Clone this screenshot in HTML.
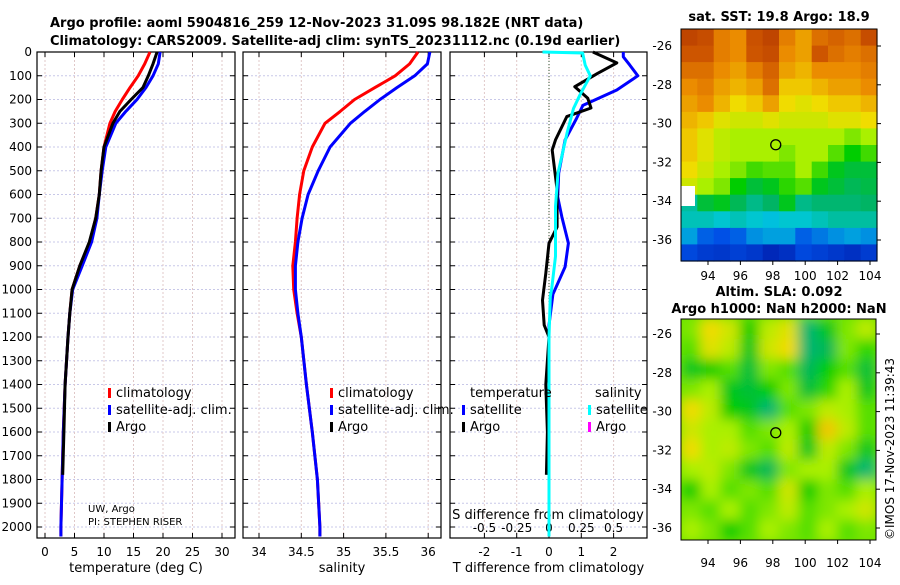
<!DOCTYPE html>
<html><head><meta charset="utf-8"><style>
body{margin:0;background:#fff;width:900px;height:580px;overflow:hidden}
svg{font-family:"DejaVu Sans","Liberation Sans",sans-serif}
</style></head><body>
<svg id="fig" width="900" height="580" viewBox="0 0 900 580" xmlns="http://www.w3.org/2000/svg">
<defs><filter id="blur" x="0" y="0" width="1" height="1"><feGaussianBlur stdDeviation="6"/></filter>
<clipPath id="clipM2"><rect x="681" y="319" width="195" height="221"/></clipPath></defs>
<text x="50" y="27" font-size="13" font-weight="bold">Argo profile: aoml 5904816_259 12-Nov-2023 31.09S 98.182E (NRT data)</text>
<text x="50" y="45" font-size="13" font-weight="bold">Climatology: CARS2009. Satellite-adj clim: synTS_20231112.nc (0.19d earlier)</text>
<text x="779" y="21" font-size="13" font-weight="bold" text-anchor="middle">sat. SST: 19.8 Argo: 18.9</text>
<text x="779" y="296" font-size="13" font-weight="bold" text-anchor="middle">Altim. SLA: 0.092</text>
<text x="779" y="313" font-size="13" font-weight="bold" text-anchor="middle">Argo h1000: NaN h2000: NaN</text>
<text transform="translate(894,540) rotate(-90)" font-size="12">©IMOS 17-Nov-2023 11:39:43</text>
<g id="g"></g>
</svg>
<script>
// ---- data ----
const depthClim = [0,50,100,150,200,250,300,400,500,600,700,800,900,1000,1100,1200,1400,1600,1800,2000,2040];
const tempClim  = [17.8,16.9,15.8,14.4,13.1,11.9,11.0,10.0,9.5,9.2,8.6,7.6,5.9,4.6,4.2,3.9,3.4,3.1,2.9,2.7,2.7];
const tempSat   = [19.5,19.2,18.3,17.1,15.6,13.7,12.0,10.3,9.7,9.2,8.8,7.9,6.3,4.7,4.2,3.9,3.4,3.1,2.9,2.7,2.7];
const depthArgo = [0,50,100,150,200,250,300,400,500,600,700,800,900,1000,1100,1200,1400,1600,1780];
const tempArgo  = [19.0,18.3,17.5,16.6,14.6,12.7,11.5,10.0,9.5,9.2,8.6,7.5,5.9,4.6,4.2,3.9,3.4,3.2,3.0];
const salClim = [35.88,35.78,35.61,35.37,35.13,34.96,34.78,34.63,34.53,34.48,34.45,34.43,34.40,34.41,34.45,34.50,34.56,34.63,34.69,34.72,34.72];
const salSat  = [36.02,35.99,35.84,35.63,35.43,35.25,35.08,34.84,34.70,34.58,34.51,34.46,34.43,34.43,34.46,34.50,34.56,34.63,34.69,34.72,34.72];
const depthDT = [0,46,90,146,195,236,272,370,413,580,737,805,932,1045,1150,1200,1400,1600,1780];
const dTArgo  = [1.36,2.1,1.5,0.8,1.2,1.3,0.55,0.2,0.1,0.25,0.25,0,-0.1,-0.2,-0.15,0,-0.1,-0.05,-0.08];
const depthDTS = [0,20,55,100,160,225,280,370,510,610,695,805,905,1020,1150,1400,2040];
const dTSat    = [2.3,2.3,2.5,2.75,2.1,1.05,0.85,0.5,0.3,0.27,0.4,0.6,0.5,0.12,0,0,0];
const depthDS = [0,4,55,100,180,238,340,510,650,860,1000,1030,1200,2040];
const dSSat   = [-0.05,0.26,0.28,0.32,0.24,0.19,0.14,0.07,0.05,0.05,0.02,0.01,0,0];
const depthTicks = [0,100,200,300,400,500,600,700,800,900,1000,1100,1200,1300,1400,1500,1600,1700,1800,1900,2000];
const tempTicks = [0,5,10,15,20,25,30];
const salTicks = [34,34.5,35,35.5,36];
const salTickLabels = ["34","34.5","35","35.5","36"];
const dTTicks = [-2,-1,0,1,2];
const dSTicks = [-0.5,-0.25,0,0.25,0.5];
const dSTickLabels = ["-0.5","-0.25","0","0.25","0.5"];
const latTicks = [-26,-28,-30,-32,-34,-36];
const lonTicks = [94,96,98,100,102,104];
const sst = [
[.88,.86,.78,.76,.85,.88,.78,.74,.8,.82,.8,.86],
[.84,.84,.78,.76,.84,.86,.76,.74,.84,.8,.78,.8],
[.8,.8,.76,.74,.78,.82,.74,.72,.76,.76,.76,.78],
[.76,.78,.74,.72,.74,.8,.7,.7,.72,.74,.74,.76],
[.74,.76,.72,.68,.7,.74,.68,.66,.68,.7,.7,.72],
[.72,.7,.66,.64,.64,.66,.64,.64,.64,.66,.66,.68],
[.7,.66,.62,.6,.6,.6,.6,.6,.6,.6,.58,.6],
[.7,.66,.62,.6,.6,.6,.58,.6,.6,.56,.52,.55],
[.68,.64,.6,.58,.55,.56,.56,.6,.55,.5,.48,.48],
[.64,.6,.58,.52,.48,.5,.54,.56,.5,.48,.46,.47],
[.4,.48,.5,.46,.42,.45,.5,.42,.44,.44,.44,.45],
[.38,.38,.36,.38,.36,.34,.36,.36,.38,.4,.4,.4],
[.3,.22,.2,.22,.28,.3,.3,.22,.25,.28,.3,.28],
[.18,.15,.14,.16,.14,.1,.12,.18,.16,.14,.12,.15]];
const sla = [
[.58,.68,.64,.52,.62,.66,.44,.50,.58,.62],
[.56,.66,.62,.50,.64,.68,.44,.46,.58,.54],
[.50,.52,.56,.48,.58,.56,.46,.52,.56,.48],
[.58,.60,.50,.48,.52,.58,.48,.54,.60,.50],
[.68,.62,.52,.50,.44,.56,.58,.62,.60,.56],
[.64,.60,.60,.56,.58,.60,.52,.70,.62,.56],
[.68,.60,.62,.58,.56,.62,.50,.62,.58,.50],
[.60,.62,.58,.50,.46,.58,.60,.60,.50,.44],
[.52,.60,.56,.58,.56,.64,.52,.58,.56,.60],
[.58,.56,.60,.56,.58,.62,.56,.58,.60,.64],
[.60,.58,.52,.56,.60,.58,.56,.60,.56,.58]];
const argoLon = 98.182, argoLat = -31.09;

// ---- helpers ----
const NS="http://www.w3.org/2000/svg", G=document.getElementById('g');
function mk(tag,attrs,parent){const e=document.createElementNS(NS,tag);for(const k in attrs)e.setAttribute(k,attrs[k]);(parent||G).appendChild(e);return e;}
const Y=d=>52+d*0.2375;
const PT=60, PB=538;
const xT=v=>45+v*5.9, xS=v=>259+(v-34)*84.6, xD=v=>549+v*32.3, xDS=v=>549+v*4*32.3;
const mapX=lon=>708+(lon-94)*16.2;
const m1Y=lat=>46+(-26-lat)*19.4, m2Y=lat=>334+(-26-lat)*19.4;
const cmapStops=[[0,[0,0,140]],[0.2,[0,80,230]],[0.35,[0,200,220]],[0.45,[0,180,100]],[0.52,[0,205,0]],[0.6,[170,240,0]],[0.68,[240,220,0]],[0.76,[235,140,0]],[0.84,[205,85,0]],[1,[150,20,0]]];
function jet(v){
  v=Math.max(0,Math.min(1,v));
  for(let i=1;i<cmapStops.length;i++){const [a,ca]=cmapStops[i-1],[b,cb]=cmapStops[i];
    if(v<=b){const t=(v-a)/(b-a);return 'rgb('+ca.map((x,k)=>Math.round(x+(cb[k]-x)*t)).join(',')+')';}}
  return 'rgb(150,20,0)';
}
function line(xs,ds,fx,color,name){
  const pts=xs.map((v,i)=>fx(v).toFixed(1)+','+Y(ds[i]).toFixed(1)).join(' ');
  const p=mk('polyline',{points:pts,fill:'none',stroke:color,'stroke-width':3,'stroke-linejoin':'round'});
  
  
}
function panel(x0,x1,name,ticks,fx,labels,xlabel){
  const g=mk('g',{});
  
  
  depthTicks.forEach(d=>mk('line',{x1:x0,x2:x1,y1:Y(d),y2:Y(d),stroke:'#c8c8e8','stroke-width':1,'stroke-dasharray':'2,2'},g));
  ticks.forEach(t=>mk('line',{x1:fx(t),x2:fx(t),y1:PT-8,y2:PB,stroke:'#e0c8c8','stroke-width':1,'stroke-dasharray':'2,2'},g));
  ticks.forEach((t,i)=>{mk('line',{x1:fx(t),x2:fx(t),y1:PB,y2:PB-5,stroke:'#000'},g);mk('line',{x1:fx(t),x2:fx(t),y1:52,y2:57,stroke:'#000'},g);
    if(labels){const tx=mk('text',{x:fx(t),y:556,'font-size':12,'text-anchor':'middle'},g);tx.textContent=labels[i];
    
    }});
  depthTicks.forEach(d=>{mk('line',{x1:x0,x2:x0+5,y1:Y(d),y2:Y(d),stroke:'#000'},g);mk('line',{x1:x1,x2:x1-5,y1:Y(d),y2:Y(d),stroke:'#000'},g);});
  mk('rect',{x:x0,y:52,width:x1-x0,height:PB-52,fill:'none',stroke:'#000','stroke-width':1.2},g);
  if(xlabel){const t=mk('text',{x:(x0+x1)/2,y:572,'font-size':13,'text-anchor':'middle'},g);t.textContent=xlabel;
  
  }
}
function txt(x,y,s,size,name,anchor){const t=mk('text',{x:x,y:y,'font-size':size,'text-anchor':anchor||'start'});t.textContent=s;
  
  return t;}
function leg(x,y,color,label,name){const r=mk('rect',{x:x,y:y-9,width:3,height:10,fill:color});
  
  
  txt(x+8,y,label,13,name);}

// ---- panels ----
panel(37,235,'temperature-panel',tempTicks,xT,tempTicks.map(String),'temperature (deg C)');
panel(243,441,'salinity-panel',salTicks,xS,salTickLabels,'salinity');
panel(450,647,'difference-panel',dTTicks,xD,dTTicks.map(String),'T difference from climatology');
depthTicks.forEach(d=>txt(32,Y(d)+4,String(d),12,'y-tick-label','end'));
const zl=mk('line',{x1:xD(0),x2:xD(0),y1:52,y2:PB,stroke:'#335533','stroke-width':1,'stroke-dasharray':'1,2'});


dSTicks.forEach((t,i)=>txt(xDS(t),532,dSTickLabels[i],12,'s-diff-tick-label','middle'));
txt(548,519,'S difference from climatology',13,'s-diff-axis-title','middle');

line(tempClim,depthClim,xT,'#f00','temp-climatology-line');
line(tempSat,depthClim,xT,'#00f','temp-satellite-line');
line(tempArgo,depthArgo,xT,'#000','temp-argo-line');
line(salClim,depthClim,xS,'#f00','sal-climatology-line');
line(salSat,depthClim,xS,'#00f','sal-satellite-line');
line(dTSat,depthDTS,xD,'#00f','tdiff-satellite-line');
line(dTArgo,depthDT,xD,'#000','tdiff-argo-line');
line(dSSat,depthDS,xDS,'#0ff','sdiff-satellite-line');

leg(108,397,'#f00','climatology','legend-temp-climatology');
leg(108,414,'#00f','satellite-adj. clim.','legend-temp-satellite');
leg(108,431,'#000','Argo','legend-temp-argo');
leg(330,397,'#f00','climatology','legend-sal-climatology');
leg(330,414,'#00f','satellite-adj. clim.','legend-sal-satellite');
leg(330,431,'#000','Argo','legend-sal-argo');
txt(470,397,'temperature',13,'legend-temp-header');
txt(595,397,'salinity',13,'legend-sal-header');
leg(462,414,'#00f','satellite','legend-tdiff-satellite');
leg(462,431,'#000','Argo','legend-tdiff-argo');
leg(588,414,'#0ff','satellite','legend-sdiff-satellite');
leg(588,431,'#f0f','Argo','legend-sdiff-argo');
txt(88,512,'UW, Argo',10,'pi-institution');
txt(88,525,'PI: STEPHEN RISER',10,'pi-name');

// ---- map 1 SST ----
(function(){
  const x0=681,y0=29,w=196,h=232,rows=sst.length,cols=sst[0].length;
  const g=mk('g',{});
  
  
  sst.forEach((row,r)=>row.forEach((v,c)=>{mk('rect',{x:(x0+c*w/cols).toFixed(1),y:(y0+r*h/rows).toFixed(1),width:(w/cols+0.6).toFixed(1),height:(h/rows+0.6).toFixed(1),fill:jet(v)},g);}));
  mk('rect',{x:681,y:186,width:14,height:20,fill:'#fff'},g);
  mk('rect',{x:x0,y:y0,width:w,height:h,fill:'none',stroke:'#000'},g);
  const c=mk('circle',{cx:mapX(argoLon),cy:m1Y(argoLat),r:5,fill:'none',stroke:'#000','stroke-width':1.3});
  
  
  latTicks.forEach(l=>{txt(672,m1Y(l)+4,String(l),12,'map1-lat-label','end');mk('line',{x1:x0+w,x2:x0+w+4,y1:m1Y(l),y2:m1Y(l),stroke:'#000'});});
  lonTicks.forEach(l=>{txt(mapX(l),280,String(l),12,'map1-lon-label','middle');mk('line',{x1:mapX(l),x2:mapX(l),y1:y0+h,y2:y0+h+4,stroke:'#000'});});
})();
// ---- map 2 SLA ----
(function(){
  const x0=681,y0=319,w=195,h=221,rows=sla.length,cols=sla[0].length;
  const g=mk('g',{'clip-path':'url(#clipM2)'});
  
  
  const gi=mk('g',{filter:'url(#blur)'},g);
  mk('rect',{x:x0-20,y:y0-20,width:w+40,height:h+40,fill:jet(0.57)},gi);
  sla.forEach((row,r)=>row.forEach((v,c)=>{mk('rect',{x:(x0+c*w/cols).toFixed(1),y:(y0+r*h/rows).toFixed(1),width:(w/cols+0.6).toFixed(1),height:(h/rows+0.6).toFixed(1),fill:jet(v)},gi);}));
  mk('rect',{x:x0,y:y0,width:w,height:h,fill:'none',stroke:'#000'});
  const c=mk('circle',{cx:mapX(argoLon),cy:m2Y(argoLat),r:5,fill:'none',stroke:'#000','stroke-width':1.3});
  
  
  latTicks.forEach(l=>{txt(672,m2Y(l)+4,String(l),12,'map2-lat-label','end');mk('line',{x1:x0+w,x2:x0+w+4,y1:m2Y(l),y2:m2Y(l),stroke:'#000'});});
  lonTicks.forEach(l=>{txt(mapX(l),567,String(l),12,'map2-lon-label','middle');mk('line',{x1:mapX(l),x2:mapX(l),y1:y0+h,y2:y0+h+4,stroke:'#000'});});
})();
</script>
</body></html>
